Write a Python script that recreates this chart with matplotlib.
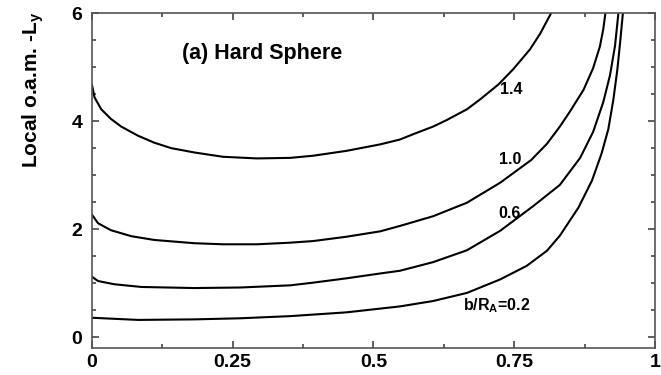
import matplotlib
matplotlib.use("Agg")
import matplotlib.pyplot as plt
from matplotlib.ticker import MultipleLocator

plt.rcParams['font.family'] = ['Liberation Sans', 'DejaVu Sans']

# b/R_A = 1.4
x14 = [0, 0.0047, 0.0166, 0.034, 0.052, 0.082, 0.111, 0.141, 0.182, 0.233, 0.293, 0.352,
       0.393, 0.452, 0.512, 0.547, 0.571, 0.606, 0.630, 0.666, 0.689, 0.722, 0.748, 0.778,
       0.796, 0.816]
y14 = [4.68, 4.44, 4.22, 4.04, 3.90, 3.73, 3.60, 3.50, 3.42, 3.34, 3.31, 3.32,
       3.36, 3.45, 3.57, 3.66, 3.76, 3.90, 4.02, 4.22, 4.40, 4.68, 4.96, 5.33,
       5.62, 6.01]
# b/R_A = 1.0
x10 = [0, 0.011, 0.034, 0.070, 0.111, 0.182, 0.233, 0.293, 0.352, 0.393, 0.452, 0.512,
       0.547, 0.606, 0.666, 0.725, 0.780, 0.808, 0.831, 0.849, 0.873, 0.890, 0.902, 0.908,
       0.912]
y10 = [2.27, 2.11, 1.98, 1.87, 1.80, 1.74, 1.72, 1.72, 1.75, 1.78, 1.86, 1.96,
       2.06, 2.24, 2.49, 2.86, 3.28, 3.58, 3.90, 4.18, 4.58, 4.98, 5.38, 5.70,
       6.01]
# b/R_A = 0.6
x06 = [0, 0.011, 0.040, 0.088, 0.182, 0.263, 0.352, 0.393, 0.452, 0.512, 0.547, 0.606,
       0.666, 0.725, 0.784, 0.831, 0.867, 0.890, 0.908, 0.920, 0.929, 0.935]
y06 = [1.12, 1.04, 0.98, 0.93, 0.91, 0.92, 0.96, 1.01, 1.09, 1.18, 1.23, 1.39,
       1.61, 1.97, 2.43, 2.82, 3.32, 3.80, 4.35, 4.85, 5.40, 6.01]
# b/R_A = 0.2
x02 = [0, 0.082, 0.182, 0.263, 0.352, 0.452, 0.547, 0.606, 0.666, 0.725, 0.772, 0.808,
       0.831, 0.864, 0.888, 0.905, 0.917, 0.926, 0.933, 0.938, 0.943]
y02 = [0.36, 0.32, 0.33, 0.35, 0.39, 0.46, 0.57, 0.67, 0.82, 1.07, 1.32, 1.60,
       1.88, 2.40, 2.90, 3.40, 3.85, 4.40, 4.95, 5.46, 6.01]

curves = [(x14, y14), (x10, y10), (x06, y06), (x02, y02)]
curve_labels = ["1.4", "1.0", "0.6", r"b/R$_\mathregular{A}$=0.2"]
label_pos = [(0.744, 4.59), (0.742, 3.29), (0.742, 2.29), (0.659, 0.58)]
label_ha = ['center', 'center', 'center', 'left']

xticks = [0, 0.25, 0.5, 0.75, 1]
xticklabels = ["0", "0.25", "0.5", "0.75", "1"]
yticks = [0, 2, 4, 6]
yticklabels = ["0", "2", "4", "6"]

fig = plt.figure(figsize=(6.61, 3.75), dpi=100)
ax = fig.add_axes([0.139, 0.072, 0.852, 0.893])

for xs, ys in curves:
    ax.plot(xs, ys, color='black', lw=1.5, solid_capstyle='round', solid_joinstyle='round')

for txt, (lx, ly), ha in zip(curve_labels, label_pos, label_ha):
    ax.text(lx, ly, txt, fontsize=11.5, fontweight='bold', ha=ha, va='center')

ax.text(0.16, 5.25, "(a) Hard Sphere", fontsize=15.5, fontweight='bold', ha='left', va='center')

ax.set_xlim(0, 1)
ax.set_ylim(-0.2, 6)
ax.set_xticks(xticks)
ax.set_xticklabels(xticklabels)
ax.set_yticks(yticks)
ax.set_yticklabels(yticklabels)
ax.xaxis.set_minor_locator(MultipleLocator(0.125))
ax.yaxis.set_minor_locator(MultipleLocator(0.5))
ax.tick_params(which='both', direction='in', top=True, right=True, color='#444444', width=1.2)
ax.tick_params(which='major', length=5, labelsize=14)
ax.tick_params(axis='y', which='major', pad=7)
ax.tick_params(axis='x', which='major', pad=4)
ax.tick_params(which='minor', length=3)
for lab in ax.get_xticklabels() + ax.get_yticklabels():
    lab.set_fontweight('bold')
for sp in ax.spines.values():
    sp.set_color('#555555')
    sp.set_linewidth(1.2)

fig.text(33 / 661, 1 - 90 / 375, r"Local o.a.m. -L$_\mathregular{y}$", fontsize=15,
         fontweight='bold', rotation=90, ha='center', va='center')

fig.savefig("out.png", dpi=100)
